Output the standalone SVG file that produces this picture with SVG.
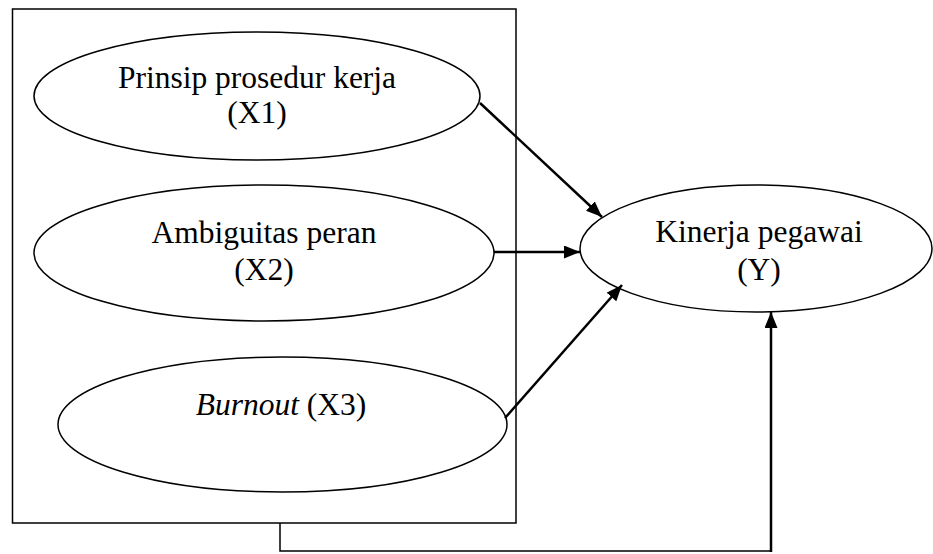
<svg xmlns="http://www.w3.org/2000/svg" width="933" height="554" viewBox="0 0 933 554">
<style>
.sh{fill:#fff;stroke:#000;stroke-width:1.5}
.box{fill:none;stroke:#000;stroke-width:1.5}
.t{font-family:"Liberation Serif","Times New Roman",serif;font-size:31.5px;fill:#000;text-anchor:middle}
.ar{fill:none;stroke:#000;stroke-width:2.5}
.ln{fill:none;stroke:#000;stroke-width:1.5}
</style>
<defs>
<marker id="ah" markerWidth="16" markerHeight="13" refX="16" refY="6.5" orient="auto" markerUnits="userSpaceOnUse">
<path d="M0,0 L16,6.5 L0,13 Z" fill="#000"/>
</marker>
</defs>
<rect id="frame" class="box" x="12.5" y="9" width="503.5" height="514"/>
<g id="x1">
<ellipse class="sh" cx="257" cy="96" rx="223" ry="64"/>
<text class="t" x="257" y="88">Prinsip prosedur kerja</text>
<text class="t" x="257" y="123">(X1)</text>
</g>
<g id="x2">
<ellipse class="sh" cx="264" cy="253" rx="230" ry="68"/>
<text class="t" x="264" y="243">Ambiguitas peran</text>
<text class="t" x="264" y="280">(X2)</text>
</g>
<g id="x3">
<ellipse class="sh" cx="282.5" cy="424.5" rx="224.5" ry="67.5"/>
<text class="t" x="281" y="415"><tspan font-style="italic">Burnout</tspan> (X3)</text>
</g>
<g id="y">
<ellipse class="sh" cx="756" cy="248.5" rx="176" ry="63.5"/>
<text class="t" x="759" y="242">Kinerja pegawai</text>
<text class="t" x="759" y="280">(Y)</text>
</g>
<g id="connectors">
<line class="ar" x1="480" y1="103" x2="602" y2="217" marker-end="url(#ah)"/>
<line class="ar" x1="494" y1="252" x2="580" y2="252" marker-end="url(#ah)"/>
<line class="ar" x1="505" y1="418" x2="622" y2="285" marker-end="url(#ah)"/>
<polyline class="ln" points="280,523 280,551 771,551"/>
<line class="ar" x1="771" y1="552" x2="771" y2="312" marker-end="url(#ah)"/>
</g>
</svg>
